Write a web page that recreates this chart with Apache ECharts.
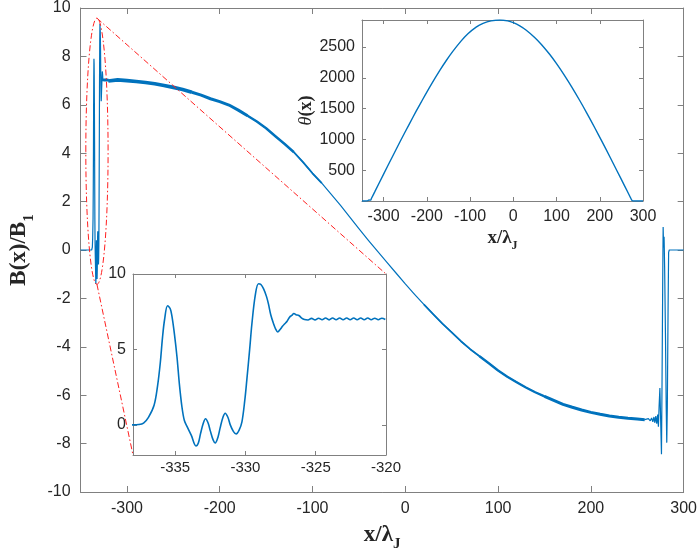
<!DOCTYPE html>
<html>
<head>
<meta charset="utf-8">
<script src="https://cdn.jsdelivr.net/npm/echarts@6/dist/echarts.min.js"></script>
<style>
  html, body { margin: 0; padding: 0; background: #fff; }
  #chart { width: 700px; height: 557px; }
</style>
</head>
<body>
<div id="chart"></div>
<script>
// ---- data ----
// B(x)/B1 against x/lambda_J
const leftEdge = [[-350, 0], [-338, 0]];
const leftBurst = [
  [-337.6, 0.02], [-337.25, 0.12], [-336.9, 0.5], [-336.5, 1.3], [-336.25, 2.6], [-336.06, 4.1],
  [-335.9, 5.8], [-335.75, 7.0], [-335.54, 7.9], [-335.35, 7.7], [-335.23, 7.2], [-335.05, 6.0],
  [-334.87, 4.5], [-334.7, 2.7], [-334.52, 1.2], [-334.35, 0.3], [-334.16, -0.1], [-333.85, -0.7],
  [-333.52, -1.4], [-333.35, -1.2], [-333.2, -0.6], [-333.0, 0.1], [-332.84, 0.4], [-332.65, 0.1],
  [-332.5, -0.4], [-332.3, -1.0], [-332.15, -1.2], [-331.95, -0.8], [-331.8, -0.2], [-331.6, 0.5],
  [-331.44, 0.77], [-331.25, 0.5], [-331.08, 0.0], [-330.85, -0.45], [-330.66, -0.6], [-330.45, -0.35],
  [-330.25, 0.2], [-330.05, 1.6], [-329.9, 3.0], [-329.7, 5.0], [-329.54, 6.7], [-329.3, 8.6],
  [-329.07, 9.35], [-328.9, 9.3], [-328.7, 9.0], [-328.5, 8.5], [-328.36, 8.0], [-328.2, 7.3],
  [-328.0, 6.7], [-327.85, 6.35], [-327.7, 6.15], [-327.55, 6.3], [-327.35, 6.55], [-327.2, 6.7],
  [-327.05, 6.85], [-326.85, 7.15], [-326.7, 7.25], [-326.55, 7.38], [-326.4, 7.3], [-326.2, 7.25],
  [-326.0, 7.08], [-325.8, 6.98], [-325.55, 6.95], [-325.3, 7.06], [-325.05, 6.96], [-324.8, 7.07],
  [-324.55, 6.97], [-324.3, 7.08], [-324.05, 6.96], [-323.8, 7.08], [-323.55, 6.97], [-323.3, 7.08],
  [-323.05, 6.97], [-322.8, 7.08], [-322.55, 6.97], [-322.3, 7.08], [-322.05, 6.97], [-321.8, 7.08],
  [-321.55, 6.97], [-321.3, 7.08], [-321.05, 6.97], [-320.8, 7.07], [-320.55, 6.97], [-320.3, 7.07],
  [-320.05, 6.98]
];
const bodyPart = [
  [-320.05, 6.98], [-310, 7.03], [-300, 7.0], [-290, 6.96], [-280, 6.92], [-270, 6.87], [-260, 6.8],
  [-250, 6.72], [-240, 6.63], [-230, 6.52], [-220, 6.4], [-210, 6.25], [-200, 6.13], [-190, 5.99],
  [-180, 5.78], [-170, 5.55], [-160, 5.31], [-150, 5.03], [-140, 4.7], [-130, 4.38], [-120, 4.04],
  [-110, 3.62], [-100, 3.17], [-90, 2.76], [-80, 2.31], [-70, 1.85], [-60, 1.37], [-50, 0.88],
  [-40, 0.41], [-30, -0.05], [-20, -0.5], [-10, -0.95], [0, -1.4], [10, -1.83], [20, -2.25],
  [30, -2.65], [40, -3.04], [50, -3.4], [60, -3.77], [70, -4.1], [80, -4.39], [90, -4.68],
  [100, -4.98], [110, -5.24], [120, -5.46], [130, -5.68], [140, -5.88], [150, -6.05], [160, -6.21],
  [170, -6.38], [180, -6.5], [190, -6.61], [200, -6.71], [210, -6.79], [220, -6.86], [230, -6.91],
  [240, -6.95], [250, -6.98], [258, -7.01]
];
const rightBurst = [
  [258, -7.01], [262, -6.97], [264, -7.06], [265.5, -6.94], [266.8, -7.1], [268, -6.9], [269, -7.14],
  [270, -6.86], [271, -7.18], [272, -6.8], [272.8, -7.3], [273.5, -6.5], [274.4, -5.7], [275.2, -7.0],
  [276.1, -8.44], [276.7, -5.5], [277.4, -1.5], [277.9, 0.95], [278.4, 0.1], [278.9, 0.55],
  [279.5, -0.7], [280.4, -3.5], [281.2, -6.5], [281.8, -7.96], [282.4, -6.5], [283.2, -2.5],
  [283.8, -0.1], [284.5, 0], [300, 0]
];
// theta(x) for the upper inset
const thetaCurve = [
  [-350, 0], [-342, 0], [-338, 2], [-336, 8], [-334, 16], [-332, 15], [-330, 14], [-328, 44],
  [-320, 156], [-300, 437], [-280, 715], [-260, 990], [-240, 1258], [-225, 1455], [-210, 1645],
  [-190, 1890], [-170, 2121], [-155, 2282], [-140, 2430], [-121, 2597], [-105, 2716], [-86, 2825],
  [-70, 2885], [-51.5, 2925], [-31, 2940], [-13, 2925], [0, 2896], [15, 2845], [30, 2774],
  [50, 2653], [65, 2543], [84, 2383], [100, 2231], [119, 2033], [135, 1854], [154, 1628],
  [170, 1428], [189, 1181], [205, 968], [223, 723], [240, 488], [258, 237], [270, 70],
  [274, 14], [276, 3], [280, 0], [300, 0]
];
// tick values
const mainXTicks = [-300, -200, -100, 0, 100, 200, 300];
const mainYTicks = [-10, -8, -6, -4, -2, 0, 2, 4, 6, 8, 10];
const zoomXTicks = [-335, -330, -325, -320];
const zoomYTicks = [0, 5, 10];
const thetaXTicks = [-300, -200, -100, 0, 100, 200, 300];
const thetaYTicks = [500, 1000, 1500, 2000, 2500];
// region circled by the red ellipse: centre and half sizes in data units
const zoomRegion = { x: -332.3, y: 4.08, dx: 12, dy: 5.5 };

// ---- styles ----
const blue = '#0072BD';
const axisGray = '#808080';
const textDark = '#262626';
const sans = "'Liberation Sans', Arial, sans-serif";
const serif = "'Liberation Serif', 'Times New Roman', serif";
// line thickness bands on the main curve (the fine ripples make it look heavy)
const thickBands = [
  [-320.05, -230, 3.6], [-230, -170, 3.0], [-170, -120, 2.4], [-120, -90, 1.8],
  [20, 80, 1.7], [80, 150, 2.3], [150, 258, 3.0]
];

function plain(v) { return String(v); }

function xAxes(grid, min, max, ticks, tickLen, fontSize, margin, name) {
  const base = {
    type: 'value', gridIndex: grid, min: min, max: max,
    axisLine: { show: true, onZero: false, lineStyle: { color: axisGray, width: 1 } },
    axisTick: { show: true, inside: true, length: tickLen, customValues: ticks, lineStyle: { color: axisGray } },
    splitLine: { show: false }
  };
  const bottom = Object.assign({}, base, {
    position: 'bottom',
    axisLabel: { customValues: ticks, formatter: plain, color: textDark, fontSize: fontSize, fontFamily: sans, margin: margin }
  });
  if (name) Object.assign(bottom, name);
  const top = Object.assign({}, base, { position: 'top', axisLabel: { show: false } });
  return [bottom, top];
}
function yAxes(grid, min, max, ticks, tickLen, fontSize, margin, name) {
  const base = {
    type: 'value', gridIndex: grid, min: min, max: max,
    axisLine: { show: true, onZero: false, lineStyle: { color: axisGray, width: 1 } },
    axisTick: { show: true, inside: true, length: tickLen, customValues: ticks, lineStyle: { color: axisGray } },
    splitLine: { show: false }
  };
  const left = Object.assign({}, base, {
    position: 'left',
    axisLabel: { customValues: ticks, formatter: plain, color: textDark, fontSize: fontSize, fontFamily: sans, margin: margin }
  });
  if (name) Object.assign(left, name);
  const right = Object.assign({}, base, { position: 'right', axisLabel: { show: false } });
  return [left, right];
}

const mainXName = {
  name: '{b|x/λ}{s|J}', nameLocation: 'middle', nameGap: 26,
  nameTextStyle: {
    rich: {
      b: { fontFamily: serif, fontWeight: 'bold', fontSize: 23, color: textDark, lineHeight: 34, verticalAlign: 'middle' },
      s: { fontFamily: serif, fontWeight: 'bold', fontSize: 15, color: textDark, lineHeight: 34, verticalAlign: 'bottom' }
    }
  }
};
const mainYName = {
  name: '{b|B(x)/B}{s|1}', nameLocation: 'middle', nameGap: 36,
  nameTextStyle: {
    rich: {
      b: { fontFamily: serif, fontWeight: 'bold', fontSize: 23, color: textDark, lineHeight: 34, verticalAlign: 'middle' },
      s: { fontFamily: serif, fontWeight: 'bold', fontSize: 15, color: textDark, lineHeight: 34, verticalAlign: 'bottom' }
    }
  }
};
const thetaXName = {
  name: '{b|x/λ}{s|J}', nameLocation: 'middle', nameGap: 23,
  nameTextStyle: {
    rich: {
      b: { fontFamily: serif, fontWeight: 'bold', fontSize: 19, color: textDark, lineHeight: 28, verticalAlign: 'middle' },
      s: { fontFamily: serif, fontWeight: 'bold', fontSize: 12, color: textDark, lineHeight: 28, verticalAlign: 'bottom' }
    }
  }
};
const thetaYName = {
  name: '{i|θ}{b|(x)}', nameLocation: 'middle', nameGap: 40,
  nameTextStyle: {
    rich: {
      i: { fontFamily: serif, fontStyle: 'italic', fontSize: 18, color: textDark },
      b: { fontFamily: serif, fontWeight: 'bold', fontSize: 18, color: textDark }
    }
  }
};

const mx = xAxes(0, -350, 300, mainXTicks, 6, 16, 9, mainXName);
const my = yAxes(0, -10, 10, mainYTicks, 6, 16, 10, mainYName);
const zx = xAxes(1, -338, -320, zoomXTicks, 4, 15, 5);
const zy = yAxes(1, -2, 10, zoomYTicks, 4, 16, 7);
const tx = xAxes(2, -350, 300, thetaXTicks, 4, 16, 8, thetaXName);
const ty = yAxes(2, 0, 2940, thetaYTicks, 4, 16, 7, thetaYName);

const bodySeries = [{
  type: 'line', xAxisIndex: 0, yAxisIndex: 0, data: bodyPart, showSymbol: false,
  lineStyle: { color: blue, width: 1.2, join: 'round' }, z: 3
}];
thickBands.forEach(function (b) {
  bodySeries.push({
    type: 'line', xAxisIndex: 0, yAxisIndex: 0, showSymbol: false,
    data: bodyPart.filter(function (p) { return p[0] >= b[0] && p[0] <= b[1]; }),
    lineStyle: { color: blue, width: b[2], join: 'round' }, z: 3
  });
});

const option = {
  backgroundColor: '#fff',
  animation: false,
  grid: [
    { left: 64, top: 5, width: 622, height: 491 },
    { left: 133, top: 274, width: 253, height: 181 },
    { left: 362, top: 20, width: 281, height: 181 }
  ],
  xAxis: [mx[0], mx[1], zx[0], zx[1], tx[0], tx[1]],
  yAxis: [my[0], my[1], zy[0], zy[1], ty[0], ty[1]],
  series: [
    {
      type: 'line', xAxisIndex: 0, yAxisIndex: 0, data: leftEdge.concat(leftBurst), showSymbol: false,
      lineStyle: { color: blue, width: 1.2 }, z: 3
    },
    {
      type: 'line', xAxisIndex: 0, yAxisIndex: 0, data: rightBurst, showSymbol: false,
      lineStyle: { color: blue, width: 1.2 }, z: 3
    }
  ].concat(bodySeries).concat([
    {
      type: 'line', xAxisIndex: 2, yAxisIndex: 2, data: leftEdge.concat(leftBurst), showSymbol: false,
      smooth: 0.35, lineStyle: { color: blue, width: 1.6 }, z: 3
    },
    {
      type: 'line', xAxisIndex: 4, yAxisIndex: 4, data: thetaCurve, showSymbol: false,
      smooth: 0.3, lineStyle: { color: blue, width: 1.4 }, z: 3
    }
  ])
};

const chart = echarts.init(document.getElementById('chart'));
chart.setOption(option);

// red dash-dot ellipse and the two lines joining it to the lower inset
const c = chart.convertToPixel({ gridIndex: 0 }, [zoomRegion.x, zoomRegion.y]);
const e = chart.convertToPixel({ gridIndex: 0 }, [zoomRegion.x + zoomRegion.dx, zoomRegion.y + zoomRegion.dy]);
const rx = Math.abs(e[0] - c[0]);
const ry = Math.abs(c[1] - e[1]);
const insetTR = chart.convertToPixel({ gridIndex: 1 }, [-320, 10]);
const insetBL = chart.convertToPixel({ gridIndex: 1 }, [-338, -2]);
const dash = { stroke: '#ff2020', lineWidth: 1, lineDash: [6, 2.5, 1.5, 2.5], fill: null };
chart.setOption({
  graphic: [
    { type: 'ellipse', shape: { cx: c[0], cy: c[1], rx: rx, ry: ry }, style: dash, z: 10, silent: true },
    { type: 'line', shape: { x1: c[0], y1: c[1] - ry, x2: insetTR[0], y2: insetTR[1] }, style: dash, z: 10, silent: true },
    { type: 'line', shape: { x1: c[0], y1: c[1] + ry, x2: insetBL[0], y2: insetBL[1] }, style: dash, z: 10, silent: true }
  ]
});
</script>
</body>
</html>
